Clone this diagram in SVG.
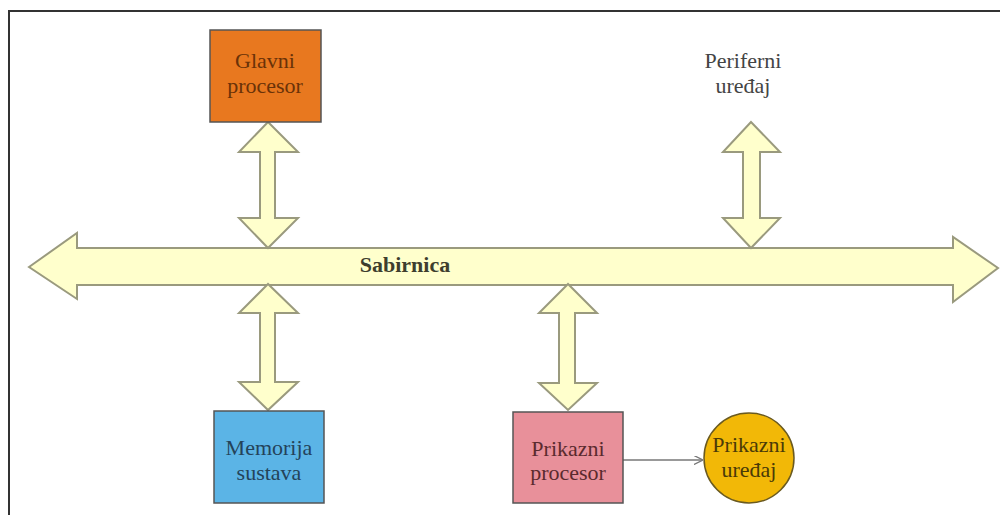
<svg xmlns="http://www.w3.org/2000/svg" width="1000" height="515" viewBox="0 0 1000 515">
<style>
.arr{fill:#FFFFCC;stroke:#9A9A7E;stroke-width:2;stroke-linejoin:miter}
.box{stroke:#555;stroke-width:1.5}
text{font-family:"Liberation Serif","Times New Roman","DejaVu Serif",serif;font-size:22px;text-anchor:middle}
</style>
<defs>
<marker id="ah" viewBox="0 0 10 10" refX="9" refY="5" markerWidth="9" markerHeight="9" markerUnits="userSpaceOnUse" orient="auto">
<path d="M0,0 L10,5 L0,10" fill="none" stroke="#777" stroke-width="1.5"/>
</marker>
</defs>
<rect width="1000" height="515" fill="#fff"/>
<path d="M9,515 V11 H1000" fill="none" stroke="#333" stroke-width="2"/>
<g id="connectors">
<path id="bus" class="arr" d="M29,267 L77,233 L77,248 L953,248 L953,237 L998,268 L953,302 L953,285 L77,285 L77,299 Z"/>
<path class="arr" d="M268,122 L239,152 L260,152 L260,218 L239,218 L268,248 L298,218 L275,218 L275,152 L298,152 Z"/>
<path class="arr" d="M751,122 L723,152 L743,152 L743,218 L723,218 L751,248 L780,218 L760,218 L760,152 L780,152 Z"/>
<path class="arr" d="M268,284 L239,313 L260,313 L260,382 L239,382 L268,410 L298,382 L275,382 L275,313 L298,313 Z"/>
<path class="arr" d="M568,284 L539,313 L559,313 L559,383 L539,383 L568,410 L597,383 L575,383 L575,313 L597,313 Z"/>
<path d="M623,460 L702,460" stroke="#777" stroke-width="1.5" marker-end="url(#ah)"/>
<text x="405" y="272" font-weight="bold" font-size="21" fill="#3E3E2E">Sabirnica</text>
</g>
<g id="glavni">
<rect class="box" x="210" y="30" width="111" height="92" fill="#E8781F"/>
<text x="265" y="68" fill="#6A3208">Glavni</text>
<text x="265" y="93" fill="#6A3208">procesor</text>
</g>
<g id="periferni">
<text x="743" y="68" fill="#444">Periferni</text>
<text x="743" y="93" fill="#444">uređaj</text>
</g>
<g id="memorija">
<rect class="box" x="214" y="411" width="110" height="92" fill="#5BB4E6"/>
<text x="269" y="455" fill="#24435A">Memorija</text>
<text x="269" y="480" fill="#24435A">sustava</text>
</g>
<g id="prikazni-procesor">
<rect class="box" x="513" y="412" width="110" height="91" fill="#E8909A"/>
<text x="568" y="456" fill="#5A2A2E">Prikazni</text>
<text x="568" y="480" fill="#5A2A2E">procesor</text>
</g>
<g id="prikazni-uredaj">
<circle cx="749" cy="458" r="45" fill="#F2B807" stroke="#6A5A20" stroke-width="1.5"/>
<text x="749" y="452" fill="#4A3A08">Prikazni</text>
<text x="749" y="477" fill="#4A3A08">uređaj</text>
</g>
</svg>
